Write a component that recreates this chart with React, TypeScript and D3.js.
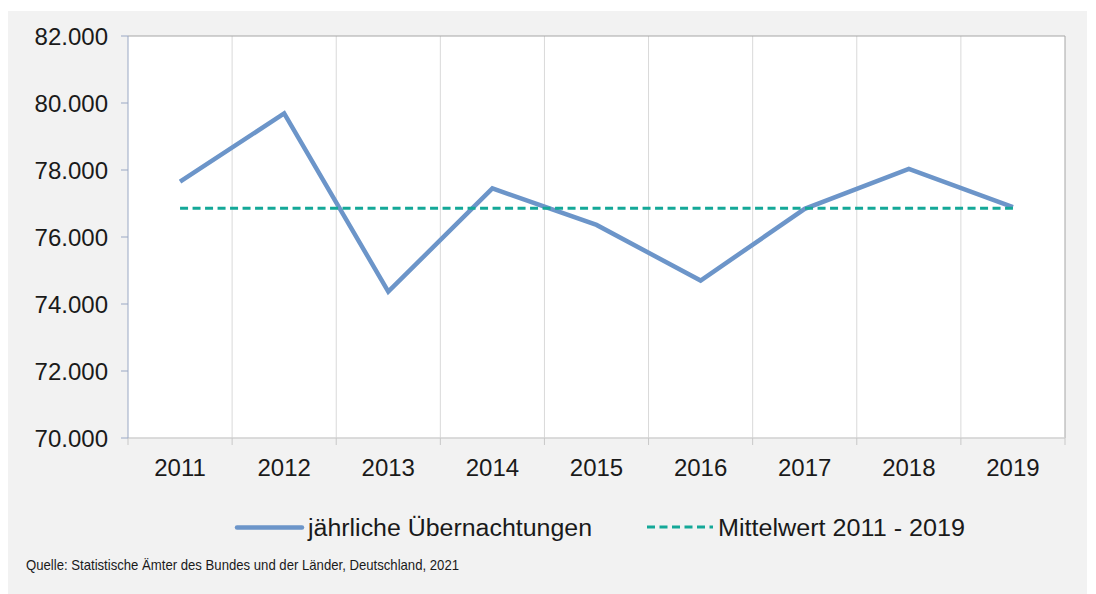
import React from "react";
import * as d3 from "d3";

const years = ["2011", "2012", "2013", "2014", "2015", "2016", "2017", "2018", "2019"];
const overnights = [77650, 79690, 74370, 77450, 76360, 74700, 76840, 78030, 76890];
const meanValue = 76860;
const yTicks = [70000, 72000, 74000, 76000, 78000, 80000, 82000];
const seriesLabel = "jährliche Übernachtungen";
const meanLabel = "Mittelwert 2011 - 2019";
const sourceText = "Quelle: Statistische Ämter des Bundes und der Länder, Deutschland, 2021";

const W = 1096;
const H = 594;
const plot = { left: 128, right: 1065, top: 36, bottom: 438 };
const FONT = "'Liberation Sans', Arial, sans-serif";

export default function App() {
  const x = d3.scaleBand<string>().domain(years).range([plot.left, plot.right]).padding(0);
  const y = d3.scaleLinear().domain([70000, 82000]).range([plot.bottom, plot.top]);
  const cx = (yr: string) => (x(yr) as number) + x.bandwidth() / 2;
  const fmt = (v: number) => d3.format(",")(v).replace(/,/g, ".");

  const line = d3
    .line<number>()
    .x((_, i) => cx(years[i]))
    .y((d) => y(d));

  const boundaries = years.map((yr) => x(yr) as number).concat([plot.right]);

  return (
    <svg
      width={W}
      height={H}
      style={{ position: "absolute", left: 0, top: 0, display: "block" }}
      fontFamily={FONT}
    >
      <rect x={0} y={0} width={W} height={H} fill="#ffffff" />
      <rect x={8} y={11} width={1079} height={583} fill="#f2f2f2" />
      <rect
        x={plot.left}
        y={plot.top}
        width={plot.right - plot.left}
        height={plot.bottom - plot.top}
        fill="#ffffff"
      />
      {/* vertical gridlines */}
      {boundaries.slice(1, -1).map((bx, i) => (
        <line key={"g" + i} x1={bx} x2={bx} y1={plot.top} y2={plot.bottom} stroke="#d9d9d9" strokeWidth={1} />
      ))}
      {/* top and right border */}
      <line x1={plot.left} x2={plot.right} y1={plot.top} y2={plot.top} stroke="#a6a6a6" strokeWidth={1} />
      <line x1={plot.right} x2={plot.right} y1={plot.top} y2={plot.bottom} stroke="#a6a6a6" strokeWidth={1} />
      {/* x axis */}
      <line x1={plot.left} x2={plot.right} y1={plot.bottom} y2={plot.bottom} stroke="#d0d0d0" strokeWidth={1.5} />
      {boundaries.map((bx, i) => (
        <line key={"xt" + i} x1={bx} x2={bx} y1={plot.bottom} y2={plot.bottom + 7} stroke="#c8c8c8" strokeWidth={1} />
      ))}
      {years.map((yr) => (
        <text key={yr} x={cx(yr)} y={476} textAnchor="middle" fontSize={24} fill="#1a1a1a">
          {yr}
        </text>
      ))}
      {/* y axis */}
      <line x1={plot.left} x2={plot.left} y1={plot.top} y2={plot.bottom} stroke="#9aa8c4" strokeWidth={1} />
      {yTicks.map((t) => (
        <g key={t}>
          <line x1={plot.left - 7} x2={plot.left} y1={y(t)} y2={y(t)} stroke="#9aa8c4" strokeWidth={1} />
          <text x={108} y={y(t) + 8.5} textAnchor="end" fontSize={24} fill="#1a1a1a">
            {fmt(t)}
          </text>
        </g>
      ))}
      {/* series */}
      <path d={line(overnights) || ""} fill="none" stroke="#6c95c9" strokeWidth={4.5} strokeLinejoin="miter" />
      <line
        x1={cx(years[0])}
        x2={cx(years[years.length - 1])}
        y1={y(meanValue)}
        y2={y(meanValue)}
        stroke="#14a898"
        strokeWidth={3}
        strokeDasharray="8 4.5"
      />
      {/* legend */}
      <line x1={237} x2={302} y1={527.5} y2={527.5} stroke="#6c95c9" strokeWidth={4.5} strokeLinecap="round" />
      <text x={308} y={535.5} fontSize={23} fill="#1a1a1a" textLength={284} lengthAdjust="spacingAndGlyphs">
        {seriesLabel}
      </text>
      <line x1={647} x2={713} y1={527} y2={527} stroke="#14a898" strokeWidth={3} strokeDasharray="8 4.5" />
      <text x={718} y={535.5} fontSize={23} fill="#1a1a1a" textLength={247} lengthAdjust="spacingAndGlyphs">
        {meanLabel}
      </text>
      {/* source */}
      <text x={26} y={570} fontSize={15} fill="#1a1a1a" textLength={433} lengthAdjust="spacingAndGlyphs">
        {sourceText}
      </text>
    </svg>
  );
}
